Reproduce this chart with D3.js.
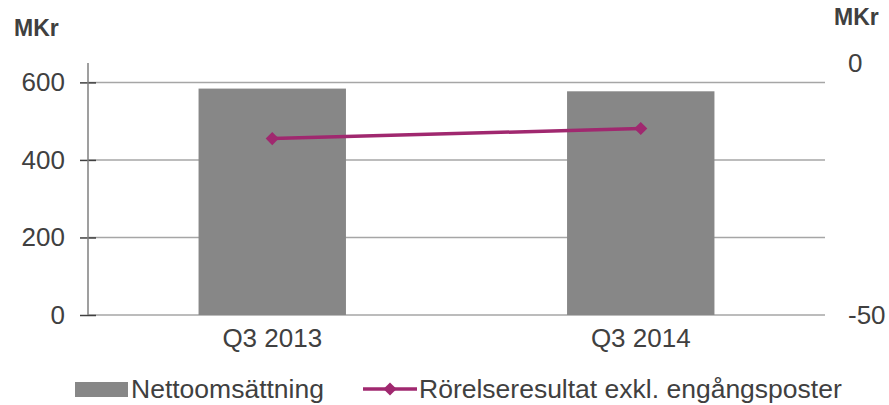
<!DOCTYPE html>
<html>
<head>
<meta charset="utf-8">
<script src="https://cdn.jsdelivr.net/npm/d3@7"></script>
<style>
body { margin: 0; background: #fff; }
text { font-family: "Liberation Sans", Arial, sans-serif; fill: #404040; }
.grid-line { stroke: #a6a6a6; stroke-width: 1.5; }
</style>
</head>
<body>
<script>
const width = 889, height = 405;
const plotLeft = 88, plotRight = 825, plotTop = 63, plotBottom = 315;

// data
const categories = ["Q3 2013", "Q3 2014"];
const netSales = [584, 577];
const opResult = [-15, -13];
const leftTicks = [0, 200, 400, 600];
const rightTicks = [-50, 0];
const seriesNames = ["Nettoomsättning", "Rörelseresultat exkl. engångsposter"];

const barColor = "#878787", lineColor = "#a0286f";

const svg = d3.select("body").append("svg")
  .attr("width", width)
  .attr("height", height);

const scaleX = d3.scaleBand()
  .domain(categories)
  .range([plotLeft, plotRight])
  .paddingInner(0.6)
  .paddingOuter(0.3);

const scaleY = d3.scaleLinear()
  .domain([0, 650])
  .range([plotBottom, plotTop]);

const scaleY2 = d3.scaleLinear()
  .domain([-50, 0])
  .range([plotBottom, plotTop]);

// grid lines
svg.append("g")
  .selectAll("line")
  .data(leftTicks)
  .enter()
  .append("line")
  .attr("class", "grid-line")
  .attr("x1", plotLeft)
  .attr("x2", plotRight)
  .attr("y1", d => scaleY(d))
  .attr("y2", d => scaleY(d));

// bars
svg.append("g")
  .selectAll("rect")
  .data(netSales)
  .enter()
  .append("rect")
  .attr("x", (d, i) => scaleX(categories[i]))
  .attr("width", scaleX.bandwidth())
  .attr("y", d => scaleY(d))
  .attr("height", d => plotBottom - scaleY(d))
  .attr("fill", barColor);

// left axis
const axisY = svg.append("g")
  .attr("transform", `translate(${plotLeft},0)`)
  .call(d3.axisLeft(scaleY).tickValues(leftTicks).tickSize(0).tickPadding(23));
axisY.select(".domain").remove();
axisY.append("line")
  .attr("y1", plotTop).attr("y2", plotBottom)
  .attr("stroke", "#7f7f7f").attr("stroke-width", 1.5);
axisY.selectAll(".tick").append("line")
  .attr("x1", -8).attr("x2", 8)
  .attr("stroke", "#404040").attr("stroke-width", 1.5);
axisY.selectAll(".tick text")
  .attr("font-size", 26).attr("fill", "#404040").attr("font-family", null);

// right axis
const axisY2 = svg.append("g")
  .attr("transform", `translate(${plotRight},0)`)
  .call(d3.axisRight(scaleY2).tickValues(rightTicks).tickSize(0).tickPadding(23)
    .tickFormat(d => String(d)));
axisY2.select(".domain").remove();
axisY2.selectAll(".tick text")
  .attr("font-size", 26).attr("fill", "#404040").attr("font-family", null);

// x axis labels
const axisX = svg.append("g")
  .attr("transform", `translate(0,${plotBottom})`)
  .call(d3.axisBottom(scaleX).tickSize(0).tickPadding(14));
axisX.select(".domain").remove();
axisX.selectAll(".tick text")
  .attr("font-size", 26).attr("fill", "#404040").attr("font-family", null);

// line series
const line = d3.line()
  .x((d, i) => scaleX(categories[i]) + scaleX.bandwidth() / 2)
  .y(d => scaleY2(d));

svg.append("path")
  .attr("d", line(opResult))
  .attr("fill", "none")
  .attr("stroke", lineColor)
  .attr("stroke-width", 3.5);

const diamond = d3.symbol().type(d3.symbolDiamond2).size(110);
svg.append("g")
  .selectAll("path")
  .data(opResult)
  .enter()
  .append("path")
  .attr("d", diamond)
  .attr("transform", (d, i) => `translate(${scaleX(categories[i]) + scaleX.bandwidth() / 2},${scaleY2(d)})`)
  .attr("fill", lineColor);

// unit titles
svg.append("text")
  .attr("x", 14).attr("y", 36)
  .attr("font-size", 23).attr("font-weight", "bold")
  .text("MKr");
svg.append("text")
  .attr("x", 834).attr("y", 25)
  .attr("font-size", 23).attr("font-weight", "bold")
  .text("MKr");

// legend
const legend = svg.append("g");
legend.append("rect")
  .attr("x", 75).attr("y", 382).attr("width", 53).attr("height", 15)
  .attr("fill", barColor);
legend.append("text")
  .attr("x", 131).attr("y", 398)
  .attr("font-size", 26.5)
  .text(seriesNames[0]);
legend.append("line")
  .attr("x1", 363).attr("x2", 417).attr("y1", 389).attr("y2", 389)
  .attr("stroke", lineColor).attr("stroke-width", 3.5);
legend.append("path")
  .attr("d", diamond)
  .attr("transform", "translate(390,389)")
  .attr("fill", lineColor);
legend.append("text")
  .attr("x", 419).attr("y", 398)
  .attr("font-size", 26.5)
  .text(seriesNames[1]);
</script>
</body>
</html>
